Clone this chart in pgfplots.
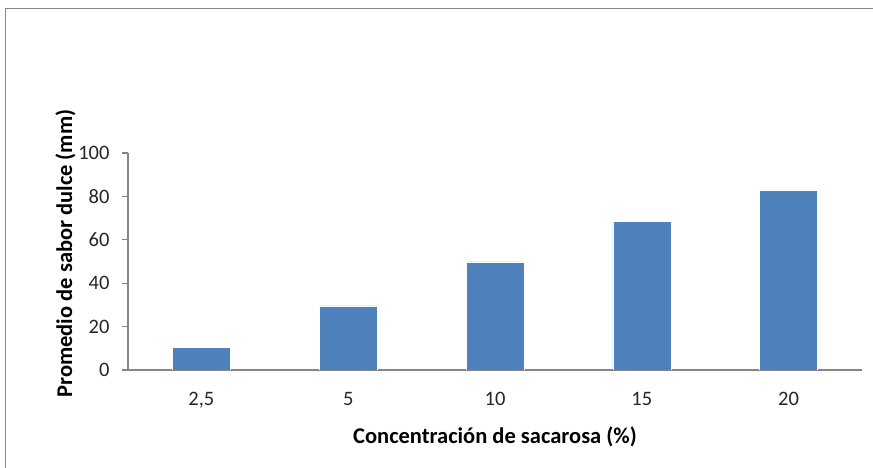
\documentclass[border=0pt]{standalone}
\usepackage{pgfplots}
\pgfplotsset{compat=1.18}
\usepackage{fontspec}
\setmainfont{Carlito}
\definecolor{barblue}{HTML}{4F81BD}
\definecolor{axgray}{HTML}{868686}
\definecolor{framegray}{HTML}{888888}
\definecolor{txt}{HTML}{262626}
\begin{document}
\begin{tikzpicture}[x=1pt,y=1pt]
\useasboundingbox (0,0) rectangle (873,468);
\fill[white] (0,0) rectangle (873,468);
\begin{scope}
\clip (0,0) rectangle (873,468);
\draw[framegray,line width=1.6pt] (5.5,-5) -- (5.5,459.5) -- (890,459.5);
\end{scope}
\begin{axis}[
  at={(128pt,98pt)}, anchor=south west,
  scale only axis, width=734pt, height=217pt,
  ybar, bar width=58pt,
  xmin=-0.5, xmax=4.5, ymin=0, ymax=100,
  xtick=data, xticklabels={{2,5},5,10,15,20},
  ytick={0,20,...,100},
  axis x line*=bottom, axis y line*=left,
  axis line style={axgray, line width=1.3pt},
  x axis line style={-}, y axis line style={-},
  major x tick style={draw=none},
  major y tick style={axgray, line width=1.3pt},
  tick align=outside, major tick length=6pt,
  /pgf/number format/assume math mode=true,
  ticklabel style={font=\fontsize{20.5}{24}\selectfont, text=txt},
  yticklabel style={xshift=-9pt},
  xticklabel style={yshift=-13pt},
  xlabel={Concentración de sacarosa (\%)},
  ylabel={Promedio de sabor dulce (mm)},
  label style={font=\bfseries\fontsize{22.5}{26}\selectfont, text=black},
  xlabel style={yshift=-11pt},
  ylabel style={yshift=-4pt, xshift=8pt},
]
\addplot[fill=barblue, draw=white, line width=0.6pt] coordinates {(0,10.5) (1,29.5) (2,49.8) (3,68.3) (4,82.6)};
\end{axis}
\end{tikzpicture}
\end{document}
